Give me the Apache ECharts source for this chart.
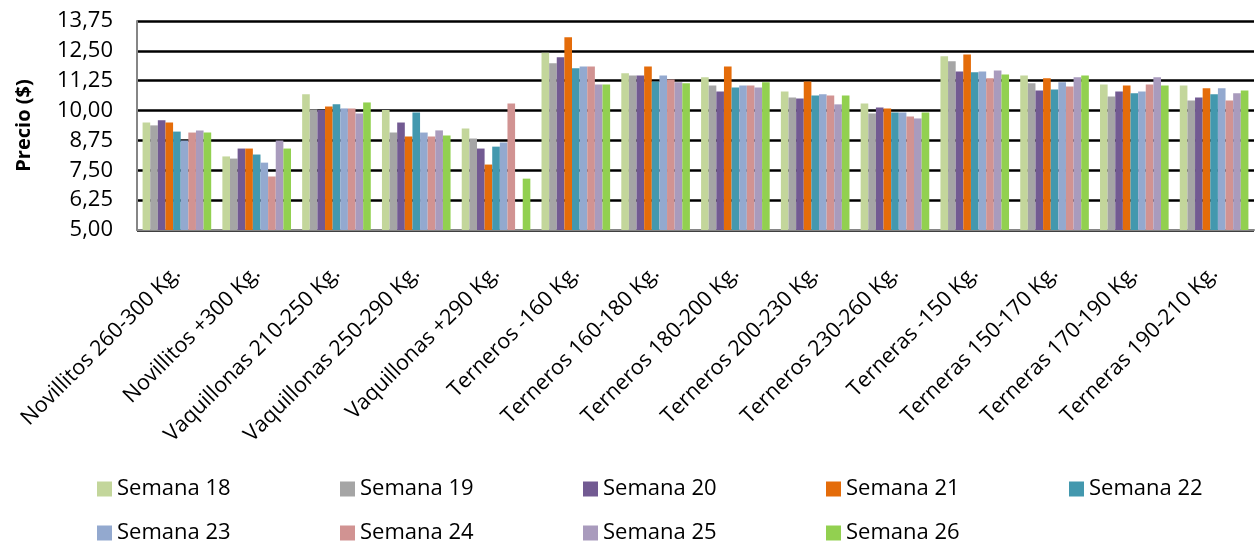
<!DOCTYPE html>
<html>
<head>
<meta charset="utf-8">
<script src="https://cdn.jsdelivr.net/npm/echarts@6/dist/echarts.min.js"></script>
<style>
html,body{margin:0;padding:0;background:#fff;}
#c{width:1255px;height:542px;}
</style>
</head>
<body>
<div id="c"></div>
<script>
const categories = ['Novillitos 260-300 Kg.','Novillitos +300 Kg.','Vaquillonas 210-250 Kg.','Vaquillonas 250-290 Kg.','Vaquillonas +290 Kg.','Terneros -160 Kg.','Terneros 160-180 Kg.','Terneros 180-200 Kg.','Terneros 200-230 Kg.','Terneros 230-260 Kg.','Terneras -150 Kg.','Terneras 150-170 Kg.','Terneras 170-190 Kg.','Terneras 190-210 Kg.'];
const seriesNames = ['Semana 18','Semana 19','Semana 20','Semana 21','Semana 22','Semana 23','Semana 24','Semana 25','Semana 26'];
const s18 = [9.50, 8.08, 10.68, 10.02, 9.25, 12.42, 11.56, 11.39, 10.80, 10.30, 12.27, 11.47, 11.09, 11.05];
const s19 = [9.38, 7.99, 10.05, 9.08, 8.83, 11.98, 11.47, 11.05, 10.55, 9.88, 12.06, 11.14, 10.59, 10.42];
const s20 = [9.59, 8.41, 10.02, 9.50, 8.41, 12.23, 11.47, 10.80, 10.51, 10.13, 11.64, 10.84, 10.80, 10.55];
const s21 = [9.50, 8.41, 10.17, 8.91, 7.74, 13.07, 11.85, 11.85, 11.22, 10.09, 12.35, 11.35, 11.05, 10.93];
const s22 = [9.12, 8.16, 10.26, 9.92, 8.49, 11.77, 11.22, 10.97, 10.63, 9.92, 11.60, 10.88, 10.72, 10.68];
const s23 = [8.75, 7.82, 10.09, 9.08, 8.66, 11.85, 11.47, 11.05, 10.68, 9.92, 11.64, 11.19, 10.80, 10.93];
const s24 = [9.08, 7.24, 10.09, 8.91, 10.30, 11.85, 11.30, 11.05, 10.63, 9.75, 11.35, 11.01, 11.09, 10.42];
const s25 = [9.17, 8.75, 9.88, 9.17, null, 11.09, 11.19, 10.97, 10.26, 9.67, 11.68, 11.39, 11.39, 10.72];
const s26 = [9.08, 8.41, 10.34, 8.96, 7.15, 11.09, 11.14, 11.19, 10.63, 9.92, 11.51, 11.47, 11.05, 10.84];
const yMin = 5, yMax = 13.75, yStep = 1.25;

const allData = [s18,s19,s20,s21,s22,s23,s24,s25,s26];
const colors = ['#C3D69B','#A5A5A5','#725A92','#E46C0A','#4398AE','#93A9CF','#D19392','#A99BBD','#92D050'];
const FONT = 'Open Sans';

const legendPos = [
  [97,478],[340,478],[583,478],[826,478],[1069,478],
  [97,522],[340,522],[583,522],[826,522]
];

const chart = echarts.init(document.getElementById('c'), null, {renderer:'canvas'});
chart.setOption({
  animation:false,
  textStyle:{fontFamily:FONT},
  grid:{left:137,right:1,top:21,bottom:312,containLabel:false},
  legend: seriesNames.map((n,i)=>({
    data:[n], left:legendPos[i][0], top:legendPos[i][1], padding:0,
    itemWidth:15, itemHeight:15, icon:'rect',
    textStyle:{fontFamily:FONT,fontSize:22,color:'#000'},
    selectedMode:false
  })),
  xAxis:{
    type:'category', data:categories,
    axisLine:{lineStyle:{color:'#868686',width:2}},
    axisTick:{show:false},
    axisLabel:{rotate:45, interval:0, margin:40, fontSize:21.5, color:'#000', fontFamily:FONT}
  },
  yAxis:{
    type:'value', min:yMin, max:yMax, interval:yStep,
    name:'Precio ($)', nameLocation:'middle', nameGap:103, nameRotate:90,
    nameTextStyle:{fontSize:20,fontWeight:'bold',color:'#000',fontFamily:FONT},
    axisLine:{show:true,lineStyle:{color:'#868686',width:2}},
    axisTick:{show:false},
    axisLabel:{margin:24,fontSize:22,color:'#000',fontFamily:FONT,
      formatter:v=>v.toFixed(2).replace('.',',')},
    splitLine:{show:true,lineStyle:{color:'#000',width:2.5}}
  },
  series: seriesNames.map((n,i)=>({
    name:n, type:'bar', data:allData[i],
    barGap:'0%', barCategoryGap:'14%',
    itemStyle:{color:colors[i]}
  }))
});
</script>
</body>
</html>
